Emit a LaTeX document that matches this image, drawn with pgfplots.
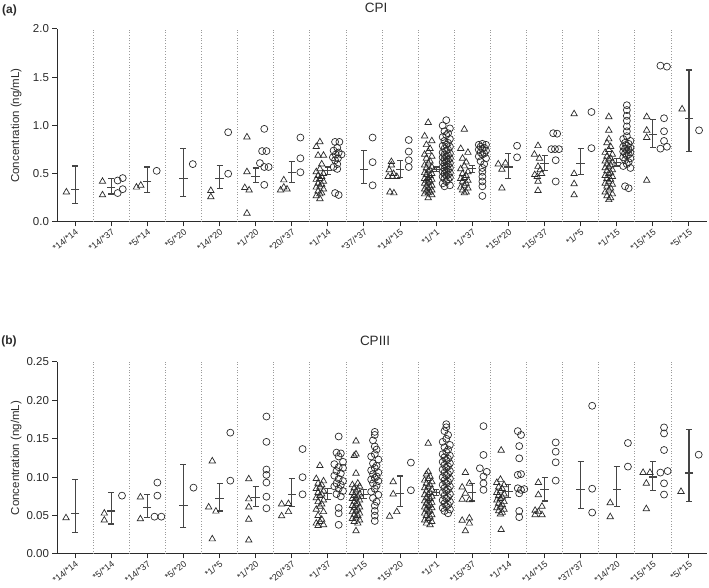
\documentclass[border=0pt]{standalone}
\usepackage{fontspec}
\setmainfont{Liberation Sans}
\usepackage{pgfplots}
\pgfplotsset{compat=1.18}
\definecolor{ink}{HTML}{2B2B2B}
\definecolor{bar}{HTML}{454545}
\definecolor{sep}{HTML}{9A9A9A}

\pgfplotsset{
  panel/.style={
    scale only axis, width=650pt,
    xmin=-0.5, xmax=17.5, ymin=0,
    axis x line=bottom, axis y line=left,
    axis line style={-, ink, line width=1pt},
    tick align=outside, major tick length=4.5pt,
    tick style={ink, line width=1pt},
    xtick={0,...,17},
    xticklabel style={rotate=38, anchor=north east, font=\fontsize{9}{10}\selectfont, inner sep=1pt, ink},
    yticklabel style={font=\fontsize{11.5}{12}\selectfont, ink},
    /pgf/number format/assume math mode=true,
    ylabel={Concentration (ng/mL)},
    ylabel style={at={(axis description cs:-0.063,0.5)}, anchor=center, font=\fontsize{11.5}{12}\selectfont, ink},
    clip=false,
  },
  sepl/.style={ycomb, no marks, sep, dotted, line width=0.7pt},
  tri/.style={only marks, mark=triangle, mark size=3.7pt, mark options={ink, line width=0.7pt, fill=none}},
  cir/.style={only marks, mark=o, mark size=3.5pt, mark options={ink, line width=0.7pt}},
  mbar/.style={only marks, mark=-, mark size=4.2pt, mark options={bar, line width=1.1pt},
    error bars/.cd, y dir=both, y explicit, error bar style={bar, line width=1.1pt},
    error mark options={rotate=90, bar, line width=1.1pt, mark size=3pt}},
}

\begin{document}
\begin{tikzpicture}
\useasboundingbox (0,0) rectangle (709pt,588pt);

\node[font=\bfseries\fontsize{12}{13}\selectfont, ink] at (9.5pt,578pt) {(a)};
\node[font=\fontsize{13.5}{14}\selectfont, ink] at (376pt,580pt) {CPI};
\node[font=\bfseries\fontsize{12}{13}\selectfont, ink] at (9pt,247pt) {(b)};
\node[font=\fontsize{13.5}{14}\selectfont, ink] at (375pt,247pt) {CPIII};

% ---------------- CPI ----------------
\begin{axis}[panel, at={(57pt,366pt)}, anchor=south west, height=193pt,
    ymax=2, ytick={0,0.5,1,1.5,2},
    yticklabel style={/pgf/number format/.cd, fixed, fixed zerofill, precision=1},
    xticklabels={*14/*14,*14/*37,*5/*14,*5/*20,*14/*20,*1/*20,*20/*37,*1/*14,*37/*37,*14/*15,*1/*1,*1/*37,*15/*20,*15/*37,*1/*5,*1/*15,*15/*15,*5/*15}]

\addplot[sepl] coordinates {(0.5,2)(1.5,2)(2.5,2)(3.5,2)(4.5,2)(5.5,2)(6.5,2)(7.5,2)(8.5,2)
  (9.5,2)(10.5,2)(11.5,2)(12.5,2)(13.5,2)(14.5,2)(15.5,2)(16.5,2)};

\addplot[tri] coordinates {
(-0.24,0.31)
(0.76,0.42)(0.76,0.28)
(1.70,0.36)(1.82,0.38)
(3.76,0.325)(3.76,0.26)
(4.76,0.88)(4.76,0.52)(4.70,0.355)(4.82,0.33)(4.76,0.09)
(5.78,0.435)(5.69,0.33)(5.78,0.36)(5.87,0.34)
(6.78,0.83)(6.68,0.78)(6.88,0.69)(6.73,0.69)(6.83,0.60)(6.78,0.55)(6.68,0.52)(6.88,0.50)
(6.73,0.48)(6.83,0.47)(6.78,0.45)(6.68,0.44)(6.88,0.42)(6.73,0.40)(6.83,0.39)(6.78,0.37)
(6.68,0.36)(6.88,0.34)(6.73,0.32)(6.83,0.30)(6.78,0.29)(6.68,0.27)(6.78,0.24)
(8.76,0.625)(8.76,0.59)(8.70,0.54)(8.82,0.50)(8.67,0.47)(8.79,0.47)(8.91,0.47)(8.72,0.31)(8.83,0.30)
(9.78,1.03)(9.68,0.89)(9.88,0.84)(9.73,0.80)(9.83,0.76)(9.78,0.73)(9.68,0.70)(9.88,0.68)
(9.73,0.66)(9.83,0.63)(9.78,0.61)(9.68,0.59)(9.88,0.57)(9.73,0.56)(9.83,0.54)(9.78,0.53)
(9.68,0.51)(9.88,0.50)(9.73,0.49)(9.83,0.48)(9.78,0.46)(9.68,0.45)(9.88,0.44)(9.73,0.43)
(9.83,0.42)(9.78,0.41)(9.68,0.40)(9.88,0.38)(9.73,0.37)(9.83,0.36)(9.78,0.35)(9.68,0.34)
(9.88,0.33)(9.73,0.32)(9.83,0.31)(9.78,0.30)(9.68,0.29)(9.88,0.28)(9.78,0.25)
(10.78,0.96)(10.68,0.76)(10.88,0.72)(10.73,0.66)(10.83,0.62)(10.78,0.58)(10.68,0.55)
(10.88,0.52)(10.73,0.50)(10.83,0.48)(10.78,0.46)(10.68,0.45)(10.88,0.43)(10.73,0.42)
(10.83,0.40)(10.78,0.38)(10.68,0.36)(10.88,0.35)(10.73,0.33)(10.83,0.31)(10.78,0.30)
(11.72,0.60)(11.92,0.61)(11.82,0.545)(11.82,0.35)
(12.82,0.79)(12.72,0.70)(12.86,0.66)(12.82,0.575)(12.88,0.54)(12.73,0.49)(12.92,0.50)(12.80,0.47)(12.82,0.42)(12.82,0.325)
(13.82,1.12)(13.82,0.50)(13.82,0.395)(13.82,0.28)
(14.78,1.09)(14.78,0.95)(14.78,0.86)(14.73,0.82)(14.83,0.78)(14.78,0.75)(14.68,0.72)(14.88,0.70)
(14.73,0.68)(14.83,0.66)(14.78,0.65)(14.68,0.63)(14.88,0.62)(14.73,0.60)(14.83,0.59)(14.78,0.57)
(14.68,0.56)(14.88,0.54)(14.73,0.53)(14.83,0.51)(14.78,0.50)(14.68,0.48)(14.88,0.47)(14.73,0.45)
(14.83,0.44)(14.78,0.42)(14.68,0.40)(14.88,0.39)(14.73,0.37)(14.83,0.35)(14.78,0.33)(14.68,0.31)
(14.88,0.29)(14.73,0.27)(14.83,0.25)(14.78,0.23)
(15.83,1.09)(15.83,0.95)(15.83,0.875)(15.83,0.43)
(16.81,1.17)
};

\addplot[cir] coordinates {
(1.18,0.43)(1.32,0.455)(1.18,0.30)(1.32,0.34)
(2.26,0.53)
(3.26,0.60)
(4.24,0.93)(4.24,0.50)
(5.24,0.965)(5.18,0.735)(5.30,0.735)(5.12,0.61)(5.24,0.57)(5.36,0.57)(5.24,0.385)
(6.24,0.875)(6.24,0.66)(6.24,0.515)
(7.20,0.83)(7.32,0.83)(7.26,0.77)(7.16,0.74)(7.30,0.72)(7.38,0.70)(7.22,0.70)(7.14,0.67)
(7.28,0.66)(7.20,0.64)(7.26,0.60)(7.16,0.57)(7.26,0.55)(7.20,0.30)(7.30,0.28)
(8.24,0.875)(8.24,0.62)(8.24,0.38)
(9.24,0.85)(9.24,0.73)(9.24,0.64)(9.24,0.57)
(10.28,1.055)(10.18,1.00)(10.38,0.97)(10.23,0.94)(10.33,0.92)(10.28,0.90)(10.18,0.88)
(10.38,0.86)(10.23,0.84)(10.33,0.82)(10.28,0.80)(10.18,0.79)(10.38,0.78)(10.23,0.76)
(10.33,0.75)(10.28,0.74)(10.18,0.72)(10.38,0.71)(10.23,0.70)(10.33,0.69)(10.28,0.68)
(10.18,0.67)(10.38,0.66)(10.23,0.65)(10.33,0.64)(10.28,0.63)(10.18,0.62)(10.38,0.61)
(10.23,0.60)(10.33,0.59)(10.28,0.58)(10.18,0.57)(10.38,0.56)(10.23,0.55)(10.33,0.54)
(10.28,0.53)(10.18,0.52)(10.38,0.51)(10.23,0.50)(10.33,0.49)(10.28,0.48)(10.18,0.47)
(10.38,0.46)(10.23,0.45)(10.33,0.44)(10.28,0.42)(10.18,0.40)(10.38,0.38)(10.23,0.37)
(11.28,0.81)(11.18,0.80)(11.38,0.80)(11.23,0.78)(11.33,0.77)(11.28,0.76)(11.18,0.75)
(11.38,0.74)(11.23,0.72)(11.33,0.71)(11.28,0.70)(11.18,0.68)(11.38,0.66)(11.23,0.63)
(11.33,0.60)(11.28,0.56)(11.28,0.52)(11.28,0.47)(11.28,0.42)(11.28,0.37)(11.28,0.27)
(12.24,0.79)(12.24,0.67)
(13.24,0.92)(13.35,0.915)(13.19,0.755)(13.29,0.755)(13.40,0.755)(13.31,0.64)(13.31,0.42)
(14.30,1.14)(14.30,0.765)
(15.28,1.21)(15.28,1.16)(15.28,1.10)(15.28,1.05)(15.28,0.99)(15.28,0.94)(15.28,0.89)
(15.18,0.86)(15.38,0.84)(15.23,0.82)(15.33,0.81)(15.28,0.79)(15.18,0.78)(15.38,0.77)
(15.23,0.76)(15.33,0.75)(15.28,0.74)(15.18,0.73)(15.38,0.72)(15.23,0.71)(15.33,0.70)
(15.28,0.69)(15.18,0.67)(15.38,0.66)(15.23,0.64)(15.33,0.62)(15.28,0.60)(15.18,0.58)
(15.38,0.56)(15.23,0.37)(15.33,0.35)
(16.21,1.62)(16.39,1.61)(16.31,1.075)(16.31,0.94)(16.31,0.84)(16.21,0.76)(16.39,0.78)
(17.28,0.95)
};

\addplot[mbar] coordinates {
(0,0.34) += (0,0.24) -= (0,0.15)
(1,0.36) += (0,0.09) -= (0,0.07)
(2,0.42) += (0,0.15) -= (0,0.11)
(3,0.45) += (0,0.31) -= (0,0.19)
(4,0.45) += (0,0.14) -= (0,0.105)
(5,0.475) += (0,0.085) -= (0,0.065)
(6,0.515) += (0,0.115) -= (0,0.105)
(7,0.53) += (0,0.04) -= (0,0.035)
(8,0.545) += (0,0.20) -= (0,0.145)
(9,0.545) += (0,0.09) -= (0,0.08)
(10,0.545) += (0,0.025) -= (0,0.025)
(11,0.555) += (0,0.035) -= (0,0.045)
(12,0.57) += (0,0.14) -= (0,0.12)
(13,0.61) += (0,0.08) -= (0,0.08)
(14,0.61) += (0,0.15) -= (0,0.12)
(15,0.615) += (0,0.04) -= (0,0.035)
(16,0.905) += (0,0.16) -= (0,0.135)
(17,1.07) += (0,0.505) -= (0,0.335)
};
\end{axis}

% ---------------- CPIII ----------------
\begin{axis}[panel, at={(57pt,34pt)}, anchor=south west, height=192pt,
    ymax=0.25, ytick={0,0.05,0.10,0.15,0.20,0.25},
    yticklabel style={/pgf/number format/.cd, fixed, fixed zerofill, precision=2},
    xticklabels={*14/*14,*5/*14,*14/*37,*5/*20,*1/*5,*1/*20,*20/*37,*1/*37,*1/*15,*15/*20,*1/*1,*15/*37,*1/*14,*14/*15,*37/*37,*14/*20,*15/*15,*5/*15}]

\addplot[sepl] coordinates {(0.5,0.25)(1.5,0.25)(2.5,0.25)(3.5,0.25)(4.5,0.25)(5.5,0.25)
  (6.5,0.25)(7.5,0.25)(8.5,0.25)(9.5,0.25)(10.5,0.25)(11.5,0.25)(12.5,0.25)(13.5,0.25)
  (14.5,0.25)(15.5,0.25)(16.5,0.25)};

\addplot[tri] coordinates {
(-0.25,0.047)
(0.81,0.053)(0.81,0.044)
(1.81,0.074)(1.81,0.0456)
(3.80,0.121)(3.70,0.061)(3.90,0.0556)(3.80,0.0195)
(4.81,0.0977)(4.81,0.0716)(4.81,0.061)(4.81,0.045)(4.81,0.018)
(5.72,0.065)(5.91,0.0655)(5.72,0.0495)(5.91,0.055)
(6.78,0.115)(6.68,0.098)(6.88,0.095)(6.73,0.092)(6.83,0.090)(6.78,0.087)(6.68,0.085)(6.88,0.082)
(6.73,0.080)(6.83,0.078)(6.78,0.076)(6.68,0.073)(6.88,0.070)(6.73,0.068)(6.83,0.065)(6.78,0.062)
(6.68,0.058)(6.88,0.055)(6.73,0.050)(6.83,0.045)(6.78,0.042)(6.68,0.040)(6.88,0.038)(6.73,0.037)
(7.78,0.147)(7.78,0.130)(7.73,0.128)(7.78,0.105)(7.83,0.092)(7.68,0.090)(7.88,0.088)(7.73,0.086)
(7.83,0.084)(7.78,0.082)(7.68,0.080)(7.88,0.078)(7.73,0.076)(7.83,0.075)(7.78,0.073)(7.68,0.072)
(7.88,0.070)(7.73,0.068)(7.83,0.066)(7.78,0.065)(7.68,0.063)(7.88,0.061)(7.73,0.060)(7.83,0.058)
(7.78,0.056)(7.68,0.055)(7.88,0.053)(7.73,0.051)(7.83,0.050)(7.78,0.048)(7.68,0.046)(7.88,0.044)
(7.73,0.042)(7.83,0.040)(7.78,0.030)
(8.81,0.094)(8.81,0.078)(8.91,0.055)(8.71,0.049)
(9.78,0.144)(9.78,0.107)(9.73,0.104)(9.83,0.101)(9.78,0.098)(9.68,0.096)(9.88,0.094)(9.73,0.092)
(9.83,0.090)(9.78,0.088)(9.68,0.086)(9.88,0.084)(9.73,0.082)(9.83,0.080)(9.78,0.078)(9.68,0.077)
(9.88,0.075)(9.73,0.073)(9.83,0.072)(9.78,0.070)(9.68,0.069)(9.88,0.067)(9.73,0.066)(9.83,0.064)
(9.78,0.063)(9.68,0.061)(9.88,0.060)(9.73,0.058)(9.83,0.056)(9.78,0.055)(9.68,0.053)(9.88,0.051)
(9.73,0.050)(9.83,0.048)(9.78,0.046)(9.68,0.044)(9.88,0.042)(9.73,0.040)(9.83,0.038)
(10.81,0.106)(10.92,0.092)(10.72,0.087)(10.81,0.079)(10.72,0.071)(10.92,0.0705)(10.72,0.0437)(10.92,0.0467)(10.92,0.040)(10.81,0.030)
(11.80,0.135)(11.78,0.097)(11.68,0.093)(11.88,0.090)(11.73,0.087)(11.83,0.085)(11.78,0.082)(11.68,0.080)
(11.88,0.078)(11.73,0.076)(11.83,0.074)(11.78,0.072)(11.68,0.070)(11.88,0.068)(11.73,0.066)(11.83,0.064)
(11.78,0.062)(11.68,0.060)(11.88,0.058)(11.73,0.056)(11.83,0.054)(11.78,0.052)(11.80,0.0316)
(12.83,0.093)(12.83,0.077)(12.93,0.062)(12.74,0.0567)(12.74,0.051)(12.93,0.051)(12.83,0.055)
(14.82,0.0666)(14.82,0.0484)
(15.73,0.106)(15.92,0.106)(15.82,0.092)(15.82,0.0588)
(16.78,0.0813)
};

\addplot[cir] coordinates {
(1.30,0.076)
(2.28,0.093)(2.28,0.076)(2.20,0.0486)(2.39,0.0486)
(3.28,0.0864)
(4.30,0.158)(4.30,0.0955)
(5.30,0.179)(5.30,0.146)(5.30,0.110)(5.30,0.103)(5.30,0.093)(5.30,0.0746)(5.30,0.0595)
(6.30,0.1367)(6.30,0.100)(6.30,0.0777)
(7.30,0.153)(7.24,0.132)(7.36,0.131)(7.30,0.127)(7.42,0.120)(7.18,0.117)(7.30,0.113)(7.42,0.112)
(7.24,0.108)(7.36,0.105)(7.18,0.102)(7.30,0.098)(7.42,0.095)(7.24,0.092)(7.36,0.090)(7.18,0.088)
(7.30,0.085)(7.42,0.082)(7.24,0.078)(7.36,0.075)(7.30,0.060)(7.30,0.053)(7.30,0.038)
(8.30,0.159)(8.30,0.155)(8.25,0.148)(8.30,0.140)(8.35,0.136)(8.30,0.130)(8.20,0.127)(8.40,0.123)
(8.25,0.118)(8.35,0.115)(8.30,0.112)(8.20,0.109)(8.40,0.106)(8.25,0.104)(8.35,0.101)(8.30,0.099)
(8.20,0.097)(8.40,0.095)(8.25,0.092)(8.35,0.089)(8.30,0.085)(8.20,0.081)(8.40,0.077)(8.25,0.073)
(8.35,0.068)(8.30,0.063)(8.30,0.056)(8.30,0.050)(8.30,0.043)
(9.30,0.119)(9.30,0.083)
(10.28,0.169)(10.28,0.165)(10.23,0.160)(10.33,0.155)(10.28,0.150)(10.18,0.146)(10.38,0.142)
(10.23,0.139)(10.33,0.136)(10.28,0.133)(10.18,0.130)(10.38,0.128)(10.23,0.126)(10.33,0.124)
(10.28,0.122)(10.18,0.120)(10.38,0.118)(10.23,0.116)(10.33,0.114)(10.28,0.112)(10.18,0.110)
(10.38,0.108)(10.23,0.106)(10.33,0.104)(10.28,0.102)(10.18,0.100)(10.38,0.098)(10.23,0.096)
(10.33,0.094)(10.28,0.092)(10.18,0.090)(10.38,0.088)(10.23,0.086)(10.33,0.084)(10.28,0.082)
(10.18,0.080)(10.38,0.078)(10.23,0.076)(10.33,0.074)(10.28,0.072)(10.18,0.070)(10.38,0.068)
(10.23,0.066)(10.33,0.064)(10.28,0.062)(10.18,0.060)(10.38,0.058)(10.23,0.056)(10.33,0.053)
(11.31,0.1665)(11.31,0.129)(11.21,0.1116)(11.40,0.107)(11.31,0.101)(11.31,0.092)(11.31,0.0835)
(12.26,0.160)(12.35,0.155)(12.30,0.1405)(12.30,0.1246)(12.26,0.103)(12.35,0.104)(12.26,0.0856)
(12.35,0.0835)(12.44,0.0845)(12.30,0.079)(12.30,0.056)(12.30,0.048)
(13.31,0.1453)(13.31,0.1332)(13.31,0.1194)(13.31,0.0956)
(14.32,0.193)(14.32,0.085)(14.32,0.054)
(15.31,0.1445)(15.31,0.1138)
(16.31,0.1648)(16.31,0.157)(16.31,0.1354)(16.21,0.106)(16.41,0.108)(16.31,0.092)(16.31,0.0774)
(17.27,0.1293)
};

\addplot[mbar] coordinates {
(0,0.053) += (0,0.044) -= (0,0.025)
(1,0.056) += (0,0.024) -= (0,0.017)
(2,0.061) += (0,0.016) -= (0,0.014)
(3,0.063) += (0,0.053) -= (0,0.029)
(4,0.072) += (0,0.020) -= (0,0.016)
(5,0.074) += (0,0.014) -= (0,0.012)
(6,0.078) += (0,0.020) -= (0,0.016)
(7,0.079) += (0,0.0066) -= (0,0.008)
(8,0.078) += (0,0.0055) -= (0,0.0053)
(9,0.079) += (0,0.0226) -= (0,0.017)
(10,0.080) += (0,0.0035) -= (0,0.004)
(11,0.080) += (0,0.012) -= (0,0.011)
(12,0.081) += (0,0.010) -= (0,0.007)
(13,0.0835) += (0,0.0164) -= (0,0.0145)
(14,0.0843) += (0,0.0357) -= (0,0.0255)
(15,0.0843) += (0,0.0297) -= (0,0.0223)
(16,0.1003) += (0,0.0197) -= (0,0.0173)
(17,0.1055) += (0,0.0563) -= (0,0.0372)
};
\end{axis}
\end{tikzpicture}
\end{document}
